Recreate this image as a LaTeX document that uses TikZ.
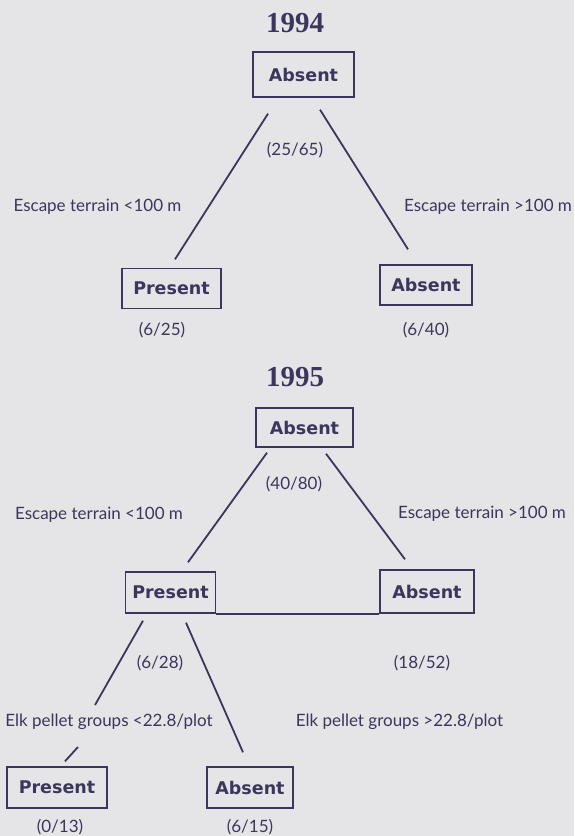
\documentclass[tikz,border=0pt]{standalone}
\usepackage{fontspec}
\setmainfont{Lato}
\newfontfamily\boxfont{DejaVu Sans}
\newfontfamily\yearfont{Liberation Serif}
\usepackage{tikz}

\definecolor{ink}{RGB}{58,54,92}
\definecolor{paper}{RGB}{229,229,231}

\begin{document}
\begin{tikzpicture}[x=1pt, y=-1pt,
  leaf/.style={draw=ink, line width=1.4pt, text=ink, inner sep=0pt,
    font=\boxfont\bfseries\fontsize{17.5}{19}\selectfont},
  year/.style={text=ink, font=\yearfont\bfseries\fontsize{29}{30}\selectfont},
  lbl/.style={text=ink, font=\fontsize{17}{18}\selectfont},
  edge/.style={draw=ink, line width=1.8pt}]
  \fill[paper] (0,0) rectangle (574,836);
  \useasboundingbox (0,0) rectangle (574,836);

  \node[year] (y94) at (295,23) {1994};
  \node[leaf, minimum width=101pt, minimum height=45pt] (r94) at (303.5,74.5) {Absent};
  \node[leaf, minimum width=99pt, minimum height=40pt] (p94) at (171.5,288.5) {Present};
  \node[leaf, minimum width=92pt, minimum height=40pt] (a94) at (426,285) {Absent};
  \node[lbl] (n94) at (295,150) {(25/65)};
  \node[lbl] (lt94) at (97.5,207) {Escape terrain <100 m};
  \node[lbl] (gt94) at (488,207) {Escape terrain >100 m};
  \node[lbl] (np94) at (162,330) {(6/25)};
  \node[lbl] (na94) at (426,330) {(6/40)};
  \draw[edge] ([xshift=-35.5pt,yshift=-16pt]r94.south) -- ([xshift=3.5pt,yshift=8.5pt]p94.north);
  \draw[edge] ([xshift=16.5pt,yshift=-12pt]r94.south) -- ([xshift=-18pt,yshift=15pt]a94.north);

  \node[year] (y95) at (295,377) {1995};
  \node[leaf, minimum width=97pt, minimum height=39pt] (r95) at (304.5,427.5) {Absent};
  \node[leaf, minimum width=90pt, minimum height=41pt] (p95) at (170.5,592.5) {Present};
  \node[leaf, minimum width=94pt, minimum height=43pt] (a95) at (427,591.5) {Absent};
  \node[lbl] (n95) at (294,484) {(40/80)};
  \node[lbl] (lt95) at (99,515) {Escape terrain <100 m};
  \node[lbl] (gt95) at (482,514) {Escape terrain >100 m};
  \node[lbl] (np95) at (160,663) {(6/28)};
  \node[lbl] (na95) at (422,663) {(18/52)};
  \node[lbl] (elo) at (109,722) {Elk pellet groups <22.8/plot};
  \node[lbl] (ehi) at (399.5,722) {Elk pellet groups >22.8/plot};
  \node[leaf, minimum width=100pt, minimum height=41pt] (p2) at (57,787.5) {Present};
  \node[leaf, minimum width=86pt, minimum height=41pt] (a2) at (250,787.5) {Absent};
  \node[lbl] (np2) at (60,827) {(0/13)};
  \node[lbl] (na2) at (250,827) {(6/15)};
  \draw[edge] ([xshift=-37.5pt,yshift=-5pt]r95.south) -- ([xshift=17.5pt,yshift=9pt]p95.north);
  \draw[edge] ([xshift=21.5pt,yshift=-6pt]r95.south) -- ([xshift=-22pt,yshift=10pt]a95.north);
  \draw[edge] (p95.south east) -- (a95.south west);
  \draw[edge] ([xshift=-27.5pt,yshift=-7pt]p95.south) -- ([xshift=-14pt,yshift=17pt]elo.center);
  \draw[edge] ([xshift=-31pt,yshift=-25pt]elo.center) -- ([xshift=8pt,yshift=5pt]p2.north);
  \draw[edge] ([xshift=15.5pt,yshift=-9pt]p95.south) -- ([xshift=-7pt,yshift=14pt]a2.north);
\end{tikzpicture}
\end{document}
